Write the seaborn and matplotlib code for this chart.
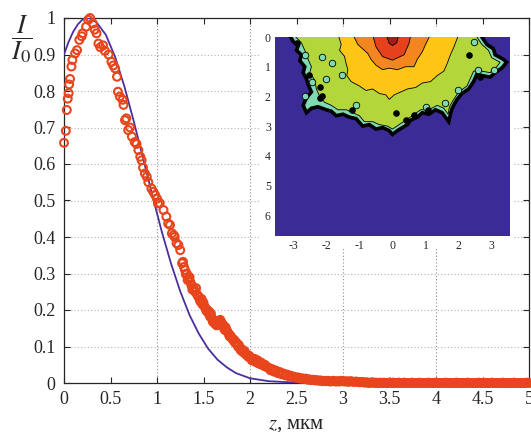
import numpy as np
import pandas as pd
import matplotlib
matplotlib.use("Agg")
import matplotlib.pyplot as plt
import seaborn as sns
from matplotlib.ticker import MultipleLocator, FormatStrFormatter

red_z = [0.00, 0.02, 0.03, 0.04, 0.05, 0.055, 0.065, 0.08, 0.09, 0.12, 0.14, 0.165, 0.19, 0.20,
         0.237, 0.26, 0.28, 0.31, 0.33, 0.35, 0.37, 0.39, 0.42, 0.44, 0.48, 0.51, 0.53, 0.55,
         0.57, 0.58, 0.60, 0.63, 0.64, 0.656, 0.67, 0.69, 0.71, 0.73, 0.76, 0.78, 0.80, 0.82,
         0.835, 0.85, 0.87, 0.89, 0.907, 0.94, 0.96, 0.98, 1.00, 1.01, 1.03, 1.07, 1.10, 1.12,
         1.14, 1.16, 1.18, 1.19, 1.21, 1.23, 1.25, 1.27, 1.28, 1.30, 1.32, 1.34, 1.35, 1.37,
         1.39, 1.41, 1.42, 1.44, 1.46, 1.48, 1.49, 1.52, 1.54, 1.55, 1.57, 1.58, 1.60, 1.62,
         1.63, 1.65, 1.66, 1.68, 1.69, 1.70, 1.72, 1.74, 1.75, 1.77, 1.79, 1.80, 1.82, 1.83,
         1.84, 1.86, 1.87, 1.89, 1.91, 1.92, 1.94, 1.95, 1.97, 1.99, 2.00, 2.03, 2.05, 2.07,
         2.10, 2.12, 2.14, 2.16, 2.17,
         # second pass through the dense strip
         1.29, 1.31, 1.33, 1.36, 1.38, 1.40, 1.43, 1.45, 1.47, 1.50, 1.51, 1.53, 1.56, 1.59,
         1.61, 1.64, 1.67, 1.71, 1.73, 1.76, 1.78, 1.81, 1.85, 1.88, 1.90, 1.93, 1.96, 1.98,
         2.01, 2.02, 2.04, 2.06, 2.08, 2.09, 2.11, 2.13, 2.15, 2.18]
red_I = [0.658, 0.691, 0.748, 0.779, 0.794, 0.818, 0.833, 0.867, 0.885, 0.903, 0.912, 0.940, 0.950, 0.958,
         0.976, 0.995, 1.000, 0.985, 0.968, 0.958, 0.930, 0.920, 0.925, 0.910, 0.900, 0.880, 0.870, 0.862,
         0.839, 0.798, 0.785, 0.776, 0.762, 0.720, 0.725, 0.693, 0.700, 0.675, 0.660, 0.655, 0.638, 0.620,
         0.610, 0.590, 0.574, 0.565, 0.550, 0.533, 0.524, 0.515, 0.505, 0.492, 0.493, 0.474, 0.456, 0.437,
         0.433, 0.410, 0.405, 0.400, 0.383, 0.378, 0.364, 0.328, 0.332, 0.310, 0.300, 0.287, 0.290, 0.268,
         0.262, 0.250, 0.260, 0.238, 0.227, 0.230, 0.215, 0.205, 0.200, 0.192, 0.182, 0.190, 0.168, 0.163,
         0.170, 0.160, 0.165, 0.173, 0.167, 0.158, 0.150, 0.152, 0.143, 0.135, 0.130, 0.124, 0.117, 0.118,
         0.110, 0.108, 0.100, 0.095, 0.093, 0.086, 0.088, 0.080, 0.076, 0.075, 0.070, 0.066, 0.066, 0.060,
         0.056, 0.056, 0.050, 0.050, 0.045,
         0.318, 0.298, 0.282, 0.276, 0.256, 0.255, 0.243, 0.236, 0.222, 0.220, 0.210, 0.198, 0.196, 0.178,
         0.172, 0.158, 0.170, 0.160, 0.145, 0.140, 0.128, 0.122, 0.112, 0.104, 0.090, 0.084, 0.078, 0.072,
         0.069, 0.062, 0.064, 0.058, 0.062, 0.054, 0.052, 0.050, 0.047, 0.044]
# tail, sampled every 0.02 from z = 2.20 to 5.00
tail_I = [0.042, 0.035, 0.038, 0.031, 0.034, 0.027, 0.030, 0.024, 0.026, 0.021, 0.023,
          0.018, 0.020, 0.016, 0.017, 0.014, 0.015, 0.012, 0.013, 0.011, 0.012,
          0.009, 0.010, 0.008, 0.009, 0.007, 0.008, 0.006, 0.007, 0.005, 0.006,
          0.005, 0.006, 0.004, 0.005, 0.006, 0.004, 0.005, 0.004, 0.006, 0.005,
          0.004, 0.005, 0.003, 0.005, 0.004, 0.003, 0.004, 0.003, 0.002, 0.003,
          0.002, 0.001, 0.002, 0.000, 0.001, 0.002, 0.000, 0.001, 0.000, 0.001,
          0.000, 0.001, 0.000, 0.000, 0.001, 0.000, 0.001, 0.000, 0.000, 0.001,
          0.000, 0.000, 0.001, 0.000, 0.000, 0.000, 0.001, 0.000, 0.000, 0.000,
          0.001, 0.000, 0.000, 0.000, 0.000, 0.001, 0.000, 0.000, 0.000, 0.001,
          0.000, 0.000, 0.000, 0.000, 0.001, 0.000, 0.000, 0.000, 0.000, 0.000,
          0.001, 0.000, 0.000, 0.000, 0.000, 0.000, 0.001, 0.000, 0.000, 0.000,
          0.000, 0.000, 0.001, 0.000, 0.000, 0.000, 0.000, 0.000, 0.000, 0.001,
          0.000, 0.000, 0.000, 0.000, 0.000, 0.001, 0.000, 0.000, 0.000, 0.000,
          0.000, 0.001, 0.000, 0.000, 0.000, 0.000, 0.000, 0.000, 0.001, 0.000]
tail_z = np.linspace(2.20, 5.00, len(tail_I))

# === Model curve
blue_z = [0.0, 0.05, 0.1, 0.15, 0.2, 0.27, 0.35, 0.45, 0.55, 0.65, 0.75, 0.85, 0.95, 1.05, 1.15,
          1.25, 1.35, 1.45, 1.55, 1.65, 1.75, 1.85, 2.0, 2.2, 2.5, 3.0, 4.0, 5.0]
blue_I = [0.900, 0.935, 0.963, 0.983, 0.996, 1.000, 0.988, 0.954, 0.893, 0.812, 0.717, 0.616, 0.514,
          0.416, 0.328, 0.251, 0.186, 0.135, 0.094, 0.064, 0.043, 0.027, 0.013, 0.005, 0.001, 0.0, 0.0, 0.0]

# === Inset contour boundaries (x, depth), outer to inner
outer_x = [-3.08, -3.0, -2.85, -2.9, -2.75, -2.8, -2.65, -2.7, -2.6, -2.55, -2.45, -2.6, -2.7, -2.6,
           -2.45, -2.25, -2.0, -1.85, -1.7, -1.5, -1.3, -1.1, -0.9, -0.7, -0.5, -0.3, -0.1, 0.0,
           0.15, 0.3, 0.45, 0.55, 0.75, 0.9, 1.1, 1.3, 1.5, 1.6, 1.7, 1.75, 1.8, 1.95, 2.1, 2.3,
           2.45, 2.55, 2.7, 2.95, 3.1, 3.3, 3.45, 3.35, 3.1, 3.05, 2.85, 2.7]
outer_y = [0.0, 0.15, 0.3, 0.45, 0.6, 0.8, 1.0, 1.2, 1.4, 1.6, 1.85, 2.05, 2.3, 2.55,
           2.4, 2.35, 2.45, 2.5, 2.65, 2.6, 2.7, 2.75, 3.0, 2.95, 3.1, 3.05, 3.15, 3.28,
           3.15, 3.05, 2.95, 2.8, 2.7, 2.55, 2.6, 2.45, 2.55, 2.7, 2.85, 2.6, 2.4, 2.1, 1.9, 1.75,
           1.5, 1.25, 1.3, 1.35, 1.2, 1.05, 0.85, 0.75, 0.6, 0.4, 0.25, 0.0]
lime_x = [-2.92, -2.75, -2.65, -2.55, -2.45, -2.5, -2.35, -2.3, -2.2, -2.05, -1.85, -1.65, -1.4, -1.2,
          -1.0, -0.85, -0.6, -0.4, -0.15, 0.0, 0.2, 0.4, 0.6, 0.85, 1.1, 1.35, 1.55, 1.68, 1.72,
          1.85, 2.0, 2.25, 2.35, 2.45, 2.7, 2.95, 3.15, 3.25, 3.0, 2.9, 2.7, 2.55]
lime_y = [0.0, 0.2, 0.45, 0.75, 1.0, 1.2, 1.45, 1.75, 2.0, 2.2, 2.3, 2.45, 2.45, 2.55,
          2.65, 2.85, 2.85, 2.95, 3.0, 3.1, 2.95, 2.8, 2.65, 2.45, 2.45, 2.3, 2.4, 2.6, 2.35,
          2.1, 1.85, 1.65, 1.4, 1.15, 1.15, 1.2, 1.0, 0.85, 0.7, 0.45, 0.25, 0.0]
yellow_x = [-1.62, -1.55, -1.6, -1.45, -1.4, -1.35, -1.38, -1.25, -1.0, -0.8, -0.6, -0.4, -0.2,
            -0.1, 0.05, 0.25, 0.45, 0.7, 0.9, 1.15, 1.35, 1.55, 1.65, 1.75, 1.85, 1.97]
yellow_y = [0.0, 0.25, 0.45, 0.65, 0.9, 1.1, 1.3, 1.5, 1.65, 1.8, 1.75, 1.9, 1.95,
            2.1, 1.95, 1.85, 1.75, 1.7, 1.55, 1.5, 1.3, 1.15, 0.9, 0.6, 0.35, 0.0]
orange_x = [-1.16, -1.05, -0.9, -0.75, -0.65, -0.5, -0.3, -0.1, 0.15, 0.4, 0.65, 0.75, 0.9, 1.0, 1.11]
orange_y = [0.0, 0.25, 0.4, 0.55, 0.75, 0.95, 1.1, 1.05, 1.1, 1.0, 1.0, 0.75, 0.5, 0.25, 0.0]
red_x = [-0.58, -0.5, -0.3, 0.0, 0.35, 0.5, 0.54]
red_y = [0.0, 0.33, 0.66, 0.78, 0.6, 0.21, 0.0]
core_x = [-0.17, -0.1, 0.0, 0.13, 0.17]
core_y = [0.0, 0.21, 0.29, 0.19, 0.0]
mint_spots_x = [-2.63, -2.12, -1.82, -2.42, -2.0, -1.52, -2.64, 2.58, 1.97, 3.08, 2.47, 1.0, -1.1, 1.6]
mint_spots_y = [0.61, 0.66, 0.89, 1.5, 1.4, 1.28, 2.0, 1.11, 1.78, 1.11, 0.16, 2.35, 2.3, 2.23]
black_spots_x = [-2.52, -2.18, -2.18, -1.21, -2.88, 2.32, 2.63, 1.06, 0.66, 0.1, 0.4, -2.12]
black_spots_y = [1.28, 1.67, 2.06, 2.46, 0.2, 0.61, 1.34, 2.46, 2.63, 2.57, 2.8, 2.0]

red_df = pd.DataFrame({"z": list(red_z) + list(tail_z), "I": list(red_I) + list(tail_I)})
blue_df = pd.DataFrame({"z": blue_z, "I": blue_I})

sns.set_style("ticks")
plt.rcParams["font.family"] = "serif"
plt.rcParams["font.serif"] = ["Liberation Serif", "DejaVu Serif"]
plt.rcParams["mathtext.fontset"] = "stix"
plt.rcParams["axes.unicode_minus"] = False

W, H = 531, 432
fig = plt.figure(figsize=(W / 100, H / 100), dpi=100)
ax = fig.add_axes([64 / W, 1 - 383 / H, 465 / W, 365 / H])

for gx in [1, 2, 3, 4]:
    ax.axvline(gx, color="0.55", lw=0.8, ls=(0, (1, 2)), zorder=0)
for gy in [0.1, 0.2, 0.3, 0.4, 0.5, 0.6, 0.7, 0.8, 0.9]:
    ax.axhline(gy, color="0.7", lw=0.8, ls=(0, (1, 2)), zorder=0)

sns.lineplot(data=blue_df, x="z", y="I", ax=ax, color="#4a2f9e", lw=1.3, zorder=3)
sns.scatterplot(data=red_df, x="z", y="I", ax=ax, marker="o", s=32, facecolors="none",
                edgecolor="#e8451d", linewidth=1.5, zorder=4, clip_on=False)

ax.set_xlim(0, 5)
ax.set_ylim(0, 1)
ax.xaxis.set_major_locator(MultipleLocator(0.5))
ax.yaxis.set_major_locator(MultipleLocator(0.1))
ax.xaxis.set_major_formatter(FormatStrFormatter("%g"))
ax.yaxis.set_major_formatter(FormatStrFormatter("%g"))
ax.tick_params(direction="in", length=4, width=0.8, top=True, right=True, labelsize=13, pad=6)
for s in ax.spines.values():
    s.set_linewidth(0.9)
ax.set_xlabel("")
ax.set_ylabel("")

fig.text(296 / W, 1 - 424 / H, "$z$, мкм", ha="center", va="center", fontsize=15)
fig.text(22 / W, 1 - 39 / H, r"$\dfrac{I}{I_0}$", ha="center", va="center", fontsize=19)

# white backing behind the inset
bg = fig.add_axes([260 / W, 1 - 247 / H, 253 / W, 219 / H])
bg.set_facecolor("white")
bg.set_xticks([])
bg.set_yticks([])
for s in bg.spines.values():
    s.set_visible(False)

# === Inset: intensity map
ins = fig.add_axes([275 / W, 1 - 236 / H, 235 / W, 199 / H])
ins.set_facecolor("#3b2b96")

def layer(xs, ys, color, lw):
    px = [xs[0]] + list(xs) + [xs[-1]]
    py = [-0.5] + list(ys) + [-0.5]
    ins.fill(px, py, facecolor=color, edgecolor="black", lw=lw, zorder=2)

layer(outer_x, outer_y, "#7fdab4", 2.6)
layer(lime_x, lime_y, "#b3d73a", 0.6)
ins.scatter(mint_spots_x, mint_spots_y, s=22, c="#7fdab4", edgecolors="black", linewidths=0.6, zorder=3)
ins.scatter(black_spots_x, black_spots_y, s=14, c="black", zorder=3)
layer(yellow_x, yellow_y, "#fdc516", 0.6)
layer(orange_x, orange_y, "#f4861f", 0.6)
layer(red_x, red_y, "#e6401c", 0.6)
layer(core_x, core_y, "#a81c16", 0.6)

ins.set_xlim(-3.55, 3.55)
ins.set_ylim(6.7, 0)
ins.set_xticks([-3, -2, -1, 0, 1, 2, 3])
ins.set_yticks([0, 1, 2, 3, 4, 5, 6])
ins.tick_params(length=0, labelsize=8.5, pad=3)
for s in ins.spines.values():
    s.set_visible(False)

fig.savefig("out.png", dpi=100)
